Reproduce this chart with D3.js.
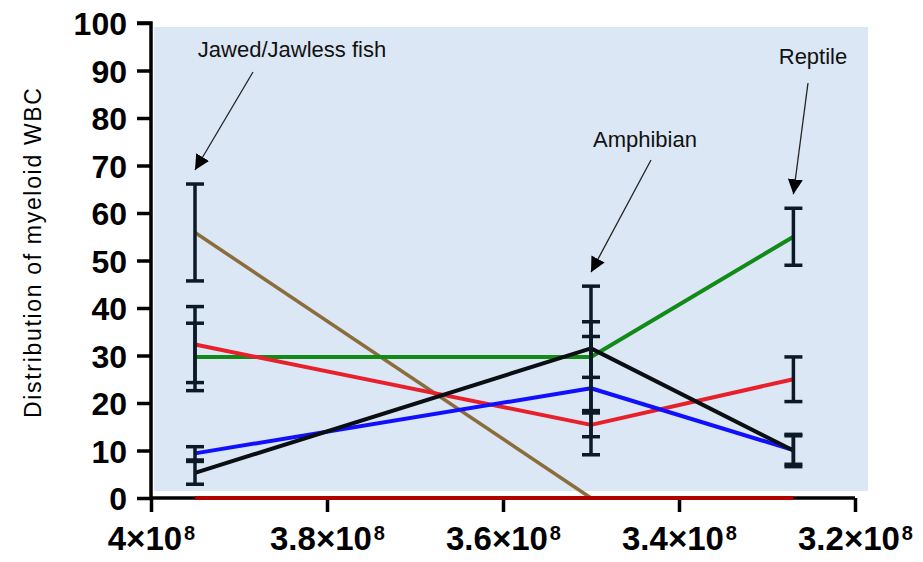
<!DOCTYPE html>
<html>
<head>
<meta charset="utf-8">
<script src="https://cdn.jsdelivr.net/npm/d3@7"></script>
<style>
  html, body { margin: 0; padding: 0; background: #ffffff; }
  svg { display: block; }
</style>
</head>
<body>
<svg id="chart" width="923" height="562"></svg>
<script>
// ---- Data ----
const xValues = [3.95e8, 3.5e8, 3.27e8];            // time points (years ago)
const groupLabels = ["Jawed/Jawless fish", "Amphibian", "Reptile"];

const greenMean  = [29.7, 29.7, 55.0];
const greenErr   = [7.1, 4.3, 6.0];
const redMean    = [32.3, 15.4, 25.0];
const redErr     = [8.0, 2.5, 4.7];
const blueMean   = [9.4, 23.1, 10.1];
const blueErr    = [1.4, 14.0, 3.0];
const blackMean  = [5.3, 31.5, 10.0];
const blackErr   = [2.4, 13.1, 3.4];
const brownMean  = [55.9, 0, null];
const brownErr   = [10.2, null, null];
const darkRedMean = [0, 0, 0];
const darkRedErr  = [null, null, null];

const yTicks = [0, 10, 20, 30, 40, 50, 60, 70, 80, 90, 100];
const xTicks = [4e8, 3.8e8, 3.6e8, 3.4e8, 3.2e8];
const xTickMantissa = ["4", "3.8", "3.6", "3.4", "3.2"];
const xTickExponent = "8";
const yTitle = "Distribution of myeloid WBC";

// ---- Layout ----
const svg = d3.select("#chart");
const x = d3.scaleLinear().domain([4e8, 3.2e8]).range([151, 855]);
const y = d3.scaleLinear().domain([0, 100]).range([498, 23]);

// background panel
svg.append("rect")
  .attr("x", 154).attr("y", 27)
  .attr("width", 868 - 154).attr("height", 491 - 27)
  .attr("fill", "#dbe7f4");

// axes
const yAxis = d3.axisLeft(y).tickValues(yTicks).tickSize(14).tickPadding(10).tickFormat(d3.format("d"));
const gy = svg.append("g").attr("transform", "translate(151,0)").call(yAxis);
const xAxis = d3.axisBottom(x).tickValues(xTicks).tickSize(14).tickPadding(14);
const gx = svg.append("g").attr("transform", "translate(0,498)").call(xAxis);

[gx, gy].forEach(g => {
  g.select(".domain").attr("stroke", "#000").attr("stroke-width", 3.5);
  g.selectAll(".tick line").attr("stroke", "#000").attr("stroke-width", 3.5);
  g.selectAll(".tick text")
    .attr("fill", "#000")
    .style("font-family", "'Liberation Sans', Arial, sans-serif")
    .style("font-weight", "bold")
    .style("font-size", "32px");
});
gy.select(".domain").attr("d", `M-14,${y(100)}H0V${y(0)}`);
gx.select(".domain").attr("d", `M${x(4e8)},0H${x(3.2e8)}`);
gy.selectAll(".tick text").attr("dy", "0.36em");

gx.selectAll(".tick text").each(function(d, i) {
  const t = d3.select(this);
  t.text(null).attr("dy", "0.74em").style("font-size", "33px");
  t.append("tspan").text(xTickMantissa[i] + "\u00d710");
  t.append("tspan").attr("dy", "-0.5em").attr("dx", "2").style("font-size", "20px").text(xTickExponent);
});

// y title
svg.append("text")
  .attr("transform", "translate(41,253) rotate(-90)")
  .attr("text-anchor", "middle")
  .attr("textLength", 330)
  .attr("lengthAdjust", "spacing")
  .style("font-family", "'Liberation Sans', Arial, sans-serif")
  .style("font-size", "23px")
  .attr("fill", "#000")
  .text(yTitle);

// series
const series = [
  { mean: brownMean,   err: brownErr,   color: "#8b6d3d", w: 3.5 },
  { mean: greenMean,   err: greenErr,   color: "#128a17", w: 4 },
  { mean: redMean,     err: redErr,     color: "#e8202b", w: 4 },
  { mean: blueMean,    err: blueErr,    color: "#1010ff", w: 4 },
  { mean: blackMean,   err: blackErr,   color: "#0b0f14", w: 4 },
  { mean: darkRedMean, err: darkRedErr, color: "#b00000", w: 4 }
];

const line = d3.line()
  .defined(d => d.v !== null)
  .x(d => x(d.x)).y(d => y(d.v));

series.forEach(s => {
  const pts = xValues.map((xv, i) => ({ x: xv, v: s.mean[i] }));
  svg.append("path")
    .datum(pts)
    .attr("d", line)
    .attr("fill", "none")
    .attr("stroke", s.color)
    .attr("stroke-width", s.w)
    .attr("stroke-linejoin", "round");
});

// error bars
const capHalf = 9;
const ebColor = "#0c1a28";
series.forEach(s => {
  xValues.forEach((xv, i) => {
    const m = s.mean[i], e = s.err[i];
    if (m === null || e === null) return;
    const cx = x(xv);
    const g = svg.append("g").attr("stroke", ebColor).attr("stroke-width", 3.5);
    g.append("line").attr("x1", cx).attr("x2", cx).attr("y1", y(m + e)).attr("y2", y(m - e));
    g.append("line").attr("x1", cx - capHalf).attr("x2", cx + capHalf).attr("y1", y(m + e)).attr("y2", y(m + e));
    g.append("line").attr("x1", cx - capHalf).attr("x2", cx + capHalf).attr("y1", y(m - e)).attr("y2", y(m - e));
  });
});

// annotations with arrows
svg.append("defs").append("marker")
  .attr("id", "arrow")
  .attr("viewBox", "0 0 10 10")
  .attr("refX", 10).attr("refY", 5)
  .attr("markerWidth", 15).attr("markerHeight", 15)
  .attr("markerUnits", "userSpaceOnUse")
  .attr("orient", "auto")
  .append("path").attr("d", "M0,0L10,5L0,10Z").attr("fill", "#000");

const annots = [
  { label: groupLabels[0], tx: 292, ty: 57, ax1: 253, ay1: 72, xi: 0, topVal: brownMean[0] + brownErr[0] },
  { label: groupLabels[1], tx: 645, ty: 147, ax1: 651, ay1: 160, xi: 1, topVal: blackMean[1] + blackErr[1] },
  { label: groupLabels[2], tx: 813, ty: 64, ax1: 808, ay1: 83, xi: 2, topVal: greenMean[2] + greenErr[2] }
];
annots.forEach(a => {
  svg.append("text")
    .attr("x", a.tx).attr("y", a.ty)
    .attr("text-anchor", "middle")
    .style("font-family", "'Liberation Sans', Arial, sans-serif")
    .style("font-size", "22px")
    .attr("fill", "#111")
    .text(a.label);
  svg.append("line")
    .attr("x1", a.ax1).attr("y1", a.ay1)
    .attr("x2", x(xValues[a.xi])).attr("y2", y(a.topVal) - 14)
    .attr("stroke", "#222").attr("stroke-width", 1.3)
    .attr("marker-end", "url(#arrow)");
});
</script>
</body>
</html>
